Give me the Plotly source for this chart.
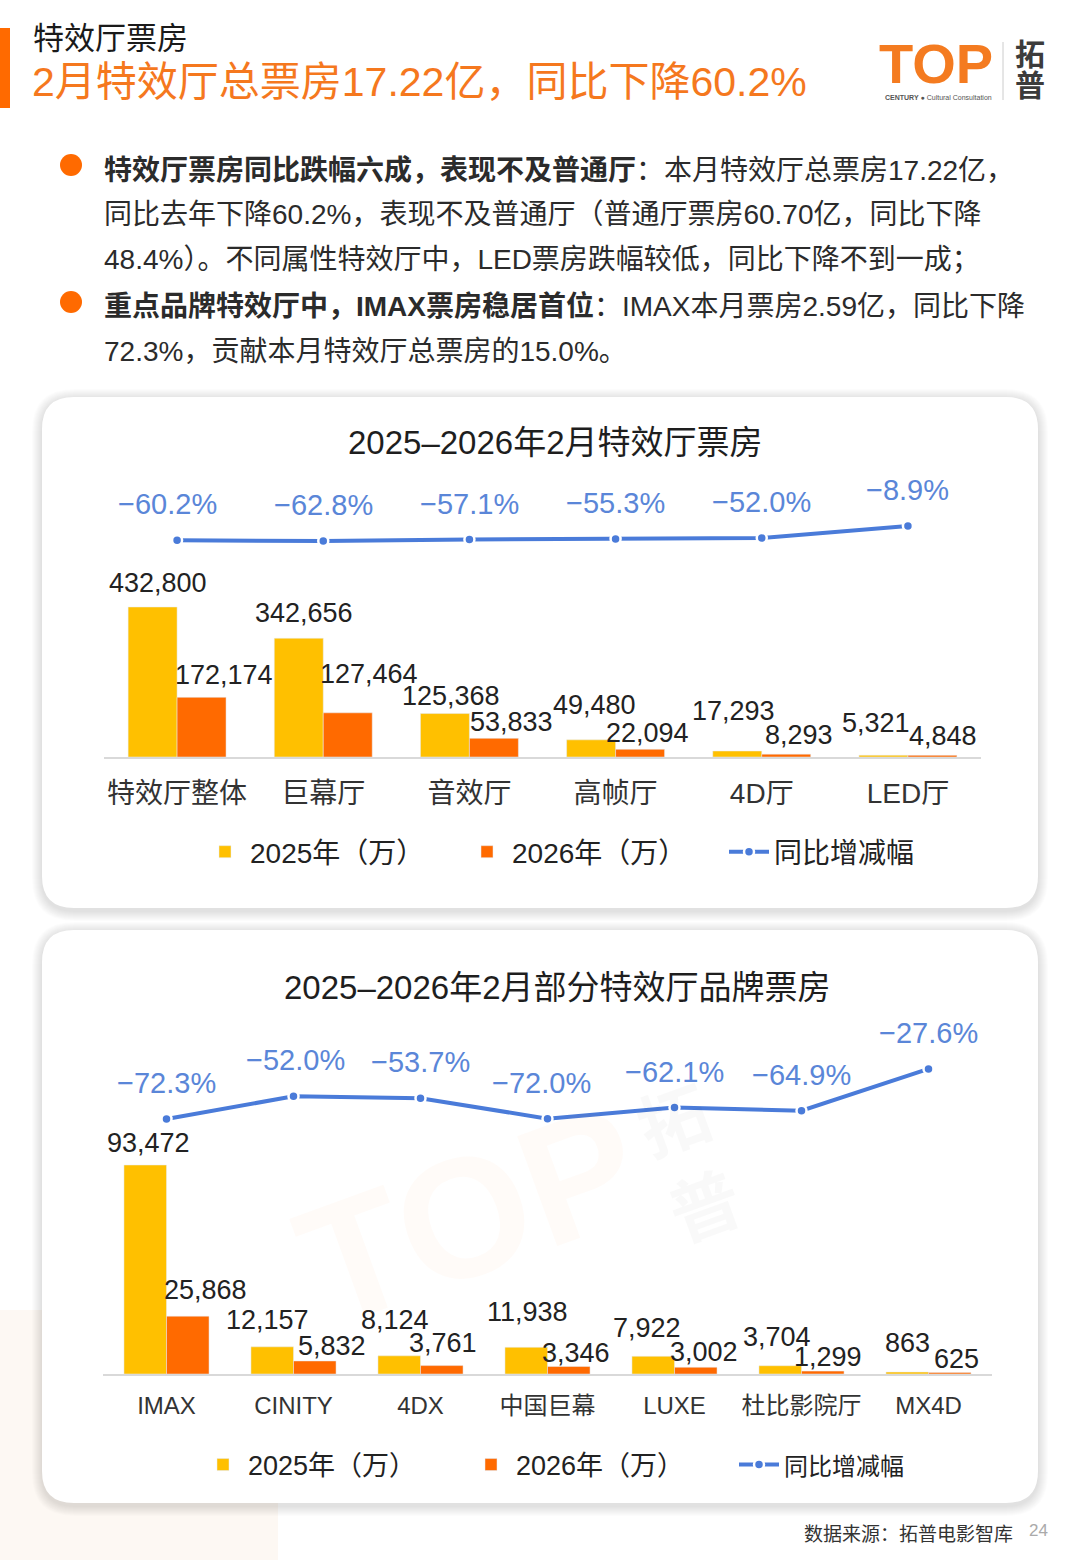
import plotly.graph_objects as go

# ---------------- data ----------------
CAT1 = ["特效厅整体", "巨幕厅", "音效厅", "高帧厅", "4D厅", "LED厅"]
C1_2025 = [432800, 342656, 125368, 49480, 17293, 5321]
C1_2026 = [172174, 127464, 53833, 22094, 8293, 4848]
C1_YOY = [-60.2, -62.8, -57.1, -55.3, -52.0, -8.9]

CAT2 = ["IMAX", "CINITY", "4DX", "中国巨幕", "LUXE", "杜比影院厅", "MX4D"]
C2_2025 = [93472, 12157, 8124, 11938, 7922, 3704, 863]
C2_2026 = [25868, 5832, 3761, 3346, 3002, 1299, 625]
C2_YOY = [-72.3, -52.0, -53.7, -72.0, -62.1, -64.9, -27.6]

NAME_25 = "2025年（万）"
NAME_26 = "2026年（万）"
NAME_YOY = "同比增减幅"

# ---------------- style ----------------
W, H = 1080, 1560
FONT = "Liberation Sans, Noto Sans CJK SC, sans-serif"
YELLOW = "#FFC000"
ORANGE = "#FF6A00"
BLUE = "#4A7BD9"
BLUE_TXT = "#5A86D8"
DARK = "#222222"
BARGAP = 0.33

# label offsets (px) relative to bar tops, to avoid overlaps as in the original
C1_DX25 = [5, 5, 6, 3, -4, -7]
C1_DY25 = [24, 25, 18, 35, 40, 32]
C1_DX26 = [22, 21, 18, 7, 13, 11]
C1_DY26 = [22, 39, 16, 16, 19, 19]
C2_DX25 = [3, -5, -4, 1, -6, -3, 0]
C2_DY25 = [22, 27, 36, 35, 28, 29, 29]
C2_DX26 = [18, 17, 1, 7, 8, 5, 7]
C2_DY26 = [26, 15, 23, 14, 15, 14, 14]
L1_DX = [-10, 0, 0, 0, 0, 0]
L2_DX = [0, 2, 0, -6, 0, 0, 0]
L_DY = 36


def X(px):
    return px / W


def Y(py):
    return 1 - py / H


# chart geometry (pixels)
C1_X0, C1_X1, C1_BASE, C1_TOP = 104, 981, 757, 557
C2_X0, C2_X1, C2_BASE, C2_TOP = 103, 992, 1374, 1144

fig = go.Figure()

# ---- chart 1 ----
fig.add_trace(go.Bar(x=CAT1, y=C1_2025, name=NAME_25, marker_color=YELLOW,
                     xaxis="x", yaxis="y", legend="legend", hoverinfo="x+y"))
fig.add_trace(go.Bar(x=CAT1, y=C1_2026, name=NAME_26, marker_color=ORANGE,
                     xaxis="x", yaxis="y", legend="legend", hoverinfo="x+y"))
fig.add_trace(go.Scatter(x=CAT1, y=C1_YOY, name=NAME_YOY, mode="lines+markers",
                         line=dict(color=BLUE, width=4),
                         marker=dict(size=10, color=BLUE, line=dict(color="white", width=2.5)),
                         xaxis="x", yaxis="y2", legend="legend", cliponaxis=False))

# ---- chart 2 ----
fig.add_trace(go.Bar(x=CAT2, y=C2_2025, name=NAME_25, marker_color=YELLOW,
                     xaxis="x2", yaxis="y3", legend="legend2", hoverinfo="x+y"))
fig.add_trace(go.Bar(x=CAT2, y=C2_2026, name=NAME_26, marker_color=ORANGE,
                     xaxis="x2", yaxis="y3", legend="legend2", hoverinfo="x+y"))
fig.add_trace(go.Scatter(x=CAT2, y=C2_YOY,
                         name='<span style="font-size:24px">' + NAME_YOY + '</span>',
                         mode="lines+markers",
                         line=dict(color=BLUE, width=4),
                         marker=dict(size=10, color=BLUE, line=dict(color="white", width=2.5)),
                         xaxis="x2", yaxis="y4", legend="legend2", cliponaxis=False))

annotations = []


def bar_labels(cats, vals, xref, yref, spacing_px, side, dxs, dys):
    half = (1 - BARGAP) / 4 * spacing_px
    for c, v, dx, dy in zip(cats, vals, dxs, dys):
        annotations.append(dict(
            x=c, y=v, xref=xref, yref=yref, text=f"{v:,}", showarrow=False,
            xanchor="center", yanchor="middle", xshift=side * half + dx, yshift=dy,
            font=dict(size=27, color=DARK, family=FONT)))


def line_labels(cats, vals, xref, yref, dxs):
    for c, v, dx in zip(cats, vals, dxs):
        annotations.append(dict(
            x=c, y=v, xref=xref, yref=yref, text=f"{v:.1f}%".replace("-", "−"),
            showarrow=False, xanchor="center", yanchor="middle", xshift=dx, yshift=L_DY,
            font=dict(size=29, color=BLUE_TXT, family=FONT)))


sp1 = (C1_X1 - C1_X0) / len(CAT1)
sp2 = (C2_X1 - C2_X0) / len(CAT2)
bar_labels(CAT1, C1_2025, "x", "y", sp1, -1, C1_DX25, C1_DY25)
bar_labels(CAT1, C1_2026, "x", "y", sp1, 1, C1_DX26, C1_DY26)
bar_labels(CAT2, C2_2025, "x2", "y3", sp2, -1, C2_DX25, C2_DY25)
bar_labels(CAT2, C2_2026, "x2", "y3", sp2, 1, C2_DX26, C2_DY26)
line_labels(CAT1, C1_YOY, "x", "y2", L1_DX)
line_labels(CAT2, C2_YOY, "x2", "y4", L2_DX)


def txt(px, py, text, size, color=DARK, anchor="left", bold=False, angle=0, family=FONT):
    annotations.append(dict(
        x=X(px), y=Y(py), xref="paper", yref="paper", showarrow=False,
        text=f"<b>{text}</b>" if bold else text, xanchor=anchor, yanchor="middle",
        textangle=angle, font=dict(size=size, color=color, family=family)))


# header
txt(31, 38, "特效厅票房", 31, "#1A1A1A")
txt(30, 82, "2月特效厅总票房17.22亿，同比下降60.2%", 41, "#F5781E")

# logo
txt(936, 64, "TOP", 56, "#F47B20", anchor="center", bold=True)
txt(938, 97, "<b>CENTURY</b> ● Cultural Consultation", 7, "#555555", anchor="center")
txt(1030, 55, "拓", 30, "#3C3C3C", anchor="center", bold=True)
txt(1030, 85, "普", 30, "#3C3C3C", anchor="center", bold=True)

# bullets
BUL = "#2B2B2B"
txt(102, 170, "<b>特效厅票房同比跌幅六成，表现不及普通厅</b>：本月特效厅总票房17.22亿，", 28, BUL)
txt(102, 215, "同比去年下降60.2%，表现不及普通厅（普通厅票房60.70亿，同比下降", 28, BUL)
txt(102, 260, "48.4%）。不同属性特效厅中，LED票房跌幅较低，同比下降不到一成；", 28, BUL)
txt(102, 306, "<b>重点品牌特效厅中，IMAX票房稳居首位</b>：IMAX本月票房2.59亿，同比下降", 28, BUL)
txt(102, 352, "72.3%，贡献本月特效厅总票房的15.0%。", 28, BUL)

# chart titles
txt(555, 442, "2025–2026年2月特效厅票房", 33, "#1E1E1E", anchor="center")
txt(557, 987, "2025–2026年2月部分特效厅品牌票房", 33, "#1E1E1E", anchor="center")

# watermark
txt(470, 1215, "TOP", 170, "rgba(250,140,60,0.035)", anchor="center", bold=True, angle=-20)
txt(690, 1165, "拓<br>普", 70, "rgba(0,0,0,0.025)", anchor="center", bold=True, angle=-20)

# footer
txt(1015, 1534, "数据来源：拓普电影智库", 19, "#333333", anchor="right")
txt(1038, 1530, "24", 17, "#AAAAAA", anchor="center")

# ---------------- shapes ----------------
shapes = []


def rrect(x0, y0, x1, y1, r):
    return (f"M {X(x0 + r)},{Y(y0)} L {X(x1 - r)},{Y(y0)} "
            f"Q {X(x1)},{Y(y0)} {X(x1)},{Y(y0 + r)} L {X(x1)},{Y(y1 - r)} "
            f"Q {X(x1)},{Y(y1)} {X(x1 - r)},{Y(y1)} L {X(x0 + r)},{Y(y1)} "
            f"Q {X(x0)},{Y(y1)} {X(x0)},{Y(y1 - r)} L {X(x0)},{Y(y0 + r)} "
            f"Q {X(x0)},{Y(y0)} {X(x0 + r)},{Y(y0)} Z")


# faint peach block bottom-left
shapes.append(dict(type="rect", xref="paper", yref="paper", x0=X(0), x1=X(278), y0=Y(1560), y1=Y(1310),
                   fillcolor="#FDF8F3", line=dict(width=0), layer="below"))

for (x0, y0, x1, y1) in [(42, 397, 1038, 908), (42, 930, 1038, 1503)]:
    for e in range(10, 0, -1):
        shapes.append(dict(type="path", xref="paper", yref="paper",
                           path=rrect(x0 - e, y0 - e + 2, x1 + e, y1 + e + 3, 32 + e),
                           fillcolor="rgba(0,0,0,0.011)", line=dict(width=0), layer="below"))
    shapes.append(dict(type="path", xref="paper", yref="paper", path=rrect(x0, y0, x1, y1, 32),
                       fillcolor="white", line=dict(width=0), layer="below"))

# header accent bar
shapes.append(dict(type="rect", xref="paper", yref="paper", x0=X(0), x1=X(10), y0=Y(108), y1=Y(28),
                   fillcolor=ORANGE, line=dict(width=0)))
# bullet dots
for cy in (165, 302):
    shapes.append(dict(type="circle", xref="paper", yref="paper", x0=X(60), x1=X(82), y0=Y(cy + 11),
                       y1=Y(cy - 11), fillcolor=ORANGE, line=dict(width=0)))
# logo divider
shapes.append(dict(type="line", xref="paper", yref="paper", x0=X(1003), x1=X(1003), y0=Y(100), y1=Y(42),
                   line=dict(color="#CCCCCC", width=1)))

# ---------------- layout ----------------
axis_common = dict(showgrid=False, zeroline=False, fixedrange=True)
fig.update_layout(
    width=W, height=H, autosize=False,
    margin=dict(l=0, r=0, t=0, b=0),
    paper_bgcolor="white", plot_bgcolor="rgba(0,0,0,0)",
    font=dict(family=FONT, color=DARK),
    barmode="group", bargap=BARGAP, bargroupgap=0,
    showlegend=True,
    xaxis=dict(domain=[X(C1_X0), X(C1_X1)], range=[-0.5, len(CAT1) - 0.5], anchor="y",
               type="category", showline=True, linecolor="#D9D9D9", linewidth=2, ticks="",
               tickfont=dict(size=28, color="#333333"), ticklabelstandoff=10, **axis_common),
    yaxis=dict(domain=[Y(C1_BASE), Y(C1_TOP)], range=[0, max(C1_2025) * 200 / 150], anchor="x",
               visible=False, **axis_common),
    yaxis2=dict(domain=[Y(560), Y(500)], range=[-130.3, 84], anchor="x", visible=False, **axis_common),
    xaxis2=dict(domain=[X(C2_X0), X(C2_X1)], range=[-0.5, len(CAT2) - 0.5], anchor="y3",
                type="category", showline=True, linecolor="#D9D9D9", linewidth=2, ticks="",
                tickfont=dict(size=24, color="#333333"), ticklabelstandoff=9, **axis_common),
    yaxis3=dict(domain=[Y(C2_BASE), Y(C2_TOP)], range=[0, max(C2_2025) * 230 / 209], anchor="x2",
                visible=False, **axis_common),
    yaxis4=dict(domain=[Y(1130), Y(1050)], range=[-82.1, -10.7], anchor="x2", visible=False, **axis_common),
    legend=dict(orientation="h", x=X(200), xanchor="left", y=Y(852), yanchor="middle",
                font=dict(size=28, color=DARK), entrywidth=207, entrywidthmode="pixels",
                itemwidth=40, traceorder="normal", bgcolor="rgba(0,0,0,0)"),
    legend2=dict(orientation="h", x=X(198), xanchor="left", y=Y(1465), yanchor="middle",
                 font=dict(size=27, color=DARK), entrywidth=213, entrywidthmode="pixels",
                 itemwidth=40, traceorder="normal", bgcolor="rgba(0,0,0,0)"),
    annotations=annotations,
    shapes=shapes,
)

fig.write_html("out.html", config={"displayModeBar": False},
               post_script="document.body.style.margin='0';document.body.style.padding='0';")
